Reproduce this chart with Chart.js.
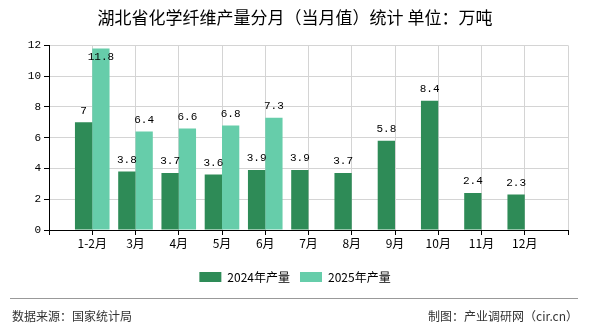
<!DOCTYPE html>
<html>
<head>
<meta charset="utf-8">
<script src="https://cdn.jsdelivr.net/npm/chart.js@4/dist/chart.umd.min.js"></script>
<style>
html,body{margin:0;padding:0;background:#fff;}
#wrap{position:relative;width:590px;height:330px;}
</style>
</head>
<body>
<div id="wrap"><canvas id="c" width="590" height="330"></canvas></div>
<script>
// ---- data ----
const categories = ['1-2月','3月','4月','5月','6月','7月','8月','9月','10月','11月','12月'];
const values2024 = [7, 3.8, 3.7, 3.6, 3.9, 3.9, 3.7, 5.8, 8.4, 2.4, 2.3];
const values2025 = [11.8, 6.4, 6.6, 6.8, 7.3, null, null, null, null, null, null];
const seriesNames = ['2024年产量', '2025年产量'];
const yTicks = [0, 2, 4, 6, 8, 10, 12];
const titleText = '湖北省化学纤维产量分月（当月值）统计 单位：万吨';
const sourceText = '数据来源：国家统计局';
const creditText = '制图：产业调研网（cir.cn）';

// pad one empty slot on each side (axis starts/ends half-way between ticks)
const labels = [''].concat(categories, ['']);
const pad = arr => [null].concat(arr, [null]);

const MONO = '"Liberation Mono", "DejaVu Sans Mono", monospace';
const CJK = '"Noto Sans CJK SC", "Noto Sans", sans-serif';

const valueLabels = {
  id: 'valueLabels',
  afterDatasetsDraw(chart) {
    const ctx = chart.ctx;
    const top = chart.chartArea.top;
    ctx.save();
    ctx.font = '11px ' + MONO;
    ctx.fillStyle = '#000';
    ctx.textAlign = 'center';
    chart.data.datasets.forEach((ds, i) => {
      const meta = chart.getDatasetMeta(i);
      meta.data.forEach((el, j) => {
        const v = ds.data[j];
        if (v === null || v === undefined) return;
        let y = el.y - 6;
        if (y - 10 < top) {
          ctx.textBaseline = 'top';
          ctx.fillText(String(v), el.x, el.y + 3);
        } else {
          ctx.textBaseline = 'bottom';
          ctx.fillText(String(v), el.x, y);
        }
      });
    });
    ctx.restore();
  }
};

const footer = {
  id: 'footer',
  afterDraw(chart) {
    const ctx = chart.ctx;
    ctx.save();
    ctx.strokeStyle = '#999';
    ctx.lineWidth = 1;
    ctx.beginPath();
    ctx.moveTo(10, 298.5);
    ctx.lineTo(578, 298.5);
    ctx.stroke();
    ctx.font = '12px ' + CJK;
    ctx.fillStyle = '#333';
    ctx.textBaseline = 'middle';
    ctx.textAlign = 'left';
    ctx.fillText(sourceText, 12, 316);
    ctx.textAlign = 'right';
    ctx.fillText(creditText, 578, 316);
    ctx.restore();
  }
};

new Chart(document.getElementById('c'), {
  type: 'bar',
  data: {
    labels: labels,
    datasets: [
      { label: seriesNames[0], data: pad(values2024), backgroundColor: '#2e8b57', borderWidth: 0 },
      { label: seriesNames[1], data: pad(values2025), backgroundColor: '#66cdaa', borderWidth: 0 }
    ]
  },
  options: {
    responsive: false,
    animation: false,
    devicePixelRatio: 1,
    layout: { padding: { left: 22, right: 22, top: 0, bottom: 37 } },
    datasets: { bar: { categoryPercentage: 0.8, barPercentage: 1.0 } },
    plugins: {
      title: {
        display: true,
        text: titleText,
        color: '#000',
        font: { family: CJK, size: 17, weight: 'normal', lineHeight: 1.2 },
        padding: { top: 7, bottom: 18 }
      },
      legend: {
        display: true,
        position: 'bottom',
        labels: {
          boxWidth: 22, boxHeight: 10, padding: 10,
          color: '#000',
          font: { family: CJK, size: 12 }
        }
      },
      tooltip: { enabled: false }
    },
    scales: {
      x: {
        offset: false,
        grid: { offset: false, color: '#d4d4d4', tickColor: '#000', tickLength: 5, drawTicks: true },
        border: { color: '#000', width: 1 },
        ticks: { autoSkip: false, maxRotation: 0, color: '#000', padding: 1,
                 font: { family: CJK, size: 12 } },
        afterFit(scale) { scale.height = 31; }
      },
      y: {
        min: 0, max: 12,
        afterBuildTicks(scale) { scale.ticks = yTicks.map(v => ({ value: v })); },
        grid: { color: '#d4d4d4', tickColor: '#000', tickLength: 5 },
        border: { color: '#000', width: 1 },
        ticks: { color: '#000', padding: 3, font: { family: MONO, size: 11 } },
        afterFit(scale) { scale.width = 27; }
      }
    }
  },
  plugins: [valueLabels, footer]
});
</script>
</body>
</html>
